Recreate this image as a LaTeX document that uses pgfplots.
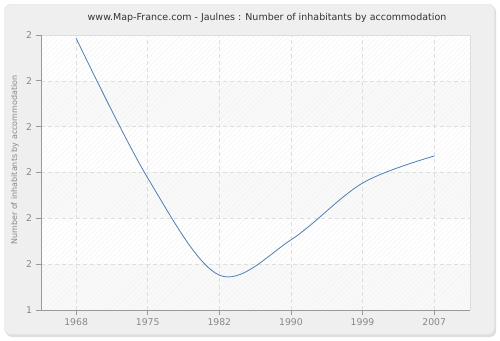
\documentclass[border=0pt]{standalone}
\usepackage{pgfplots}
\pgfplotsset{compat=1.18}
\usepackage{fontspec}
\setmainfont{DejaVu Sans}
\usetikzlibrary{patterns.meta}
\definecolor{panel}{HTML}{EFEFEF}
\definecolor{panelborder}{HTML}{DDDDDD}
\definecolor{ticktext}{HTML}{888888}
\definecolor{axisgray}{HTML}{999999}
\definecolor{gridgray}{HTML}{DEDEDE}
\definecolor{curve}{HTML}{4F7EB8}
\definecolor{titletext}{HTML}{333333}
\begin{document}
\begin{tikzpicture}[x=1pt,y=1pt]
\path (0,0) rectangle (500,340);
\fill[white] (0,0) rectangle (500,340);
\fill[gray!25,rounded corners=6pt] (6,3) rectangle (496,334);
\filldraw[fill=panel,draw=panelborder,rounded corners=6pt] (4.5,5.5) rectangle (494.5,335.5);
\node[text=titletext,font=\fontsize{9.5}{11}\selectfont] at (267,322.5) {www.Map-France.com - Jaulnes : Number of inhabitants by accommodation};
\node[text=ticktext,rotate=90,font=\fontsize{8}{10}\selectfont] at (15,180) {Number of inhabitants by accommodation};
% plot area background bands
\fill[white] (41,30) rectangle (470,305);
\fill[gray!5] (41,30) rectangle (470,75.83);
\fill[gray!5] (41,121.67) rectangle (470,167.5);
\fill[gray!5] (41,213.33) rectangle (470,259.17);
\fill[pattern={Lines[angle=45,distance=3.5pt,line width=0.4pt]},pattern color=gray!10] (41,30) rectangle (470,305);
\begin{axis}[
  at={(41pt,30pt)}, anchor=south west,
  scale only axis, width=429pt, height=275pt,
  xmin=-0.49, xmax=5.5, ymin=0, ymax=6,
  xtick={0,1,2,3,4,5},
  xticklabels={1968,1975,1982,1990,1999,2007},
  ytick={0,1,2,3,4,5,6},
  yticklabels={1,2,2,2,2,2,2},
  tick label style={text=ticktext,font=\fontsize{9.3}{11}\selectfont},
  /pgf/number format/assume math mode=true,
  tick align=outside, tick pos=left,
  major tick length=5pt,
  tick style={axisgray,line width=0.8pt},
  xticklabel style={yshift=-0.5pt},
  yticklabel style={xshift=-0.5pt},
  axis line style={draw=none},
  grid=major,
  major grid style={gridgray,dash pattern=on 4pt off 3pt,line width=0.6pt},
  clip=true,
]
\addplot[curve,line width=0.8pt,smooth,tension=0.55] coordinates {
(0,5.93) (1,2.88) (2,0.76) (3,1.53) (4,2.77) (5,3.36)
};
\end{axis}
\draw[panelborder,line width=0.6pt] (41,305) -- (470,305) -- (470,30);
\draw[axisgray,line width=0.8pt] (41,305) -- (41,30) -- (470,30);
\draw[axisgray,line width=0.8pt] (36,30) -- (41,30);
\end{tikzpicture}
\end{document}
